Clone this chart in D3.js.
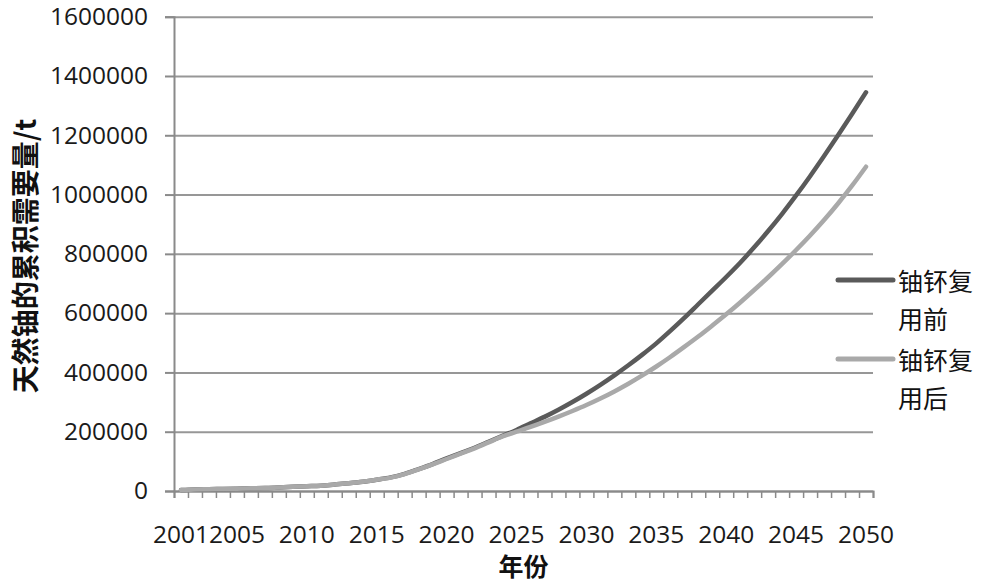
<!DOCTYPE html>
<html>
<head>
<meta charset="utf-8">
<script src="https://cdn.jsdelivr.net/npm/d3@7"></script>
<style>
  body { margin: 0; background: #fff; }
  svg { display: block; }
</style>
</head>
<body>
<div id="chart"></div>
<script>
// años 2001..2050 (categorías)
var years = d3.range(2001, 2051);
var xTickLabels = [2001, 2005, 2010, 2015, 2020, 2025, 2030, 2035, 2040, 2045, 2050];
var yTicks = [0, 200000, 400000, 600000, 800000, 1000000, 1200000, 1400000, 1600000];
var seriesNames = ["铀钚复用前", "铀钚复用后"];

// 铀钚复用前
var before = [3000, 5000, 6000, 7000, 8000, 9000, 10000, 12000, 14000, 16000,
  18000, 22000, 26000, 31000, 38000, 46000, 58000, 74000, 91000, 110000,
  128000, 146000, 166000, 186000, 206000, 228000, 250000, 274000, 300000, 328000,
  358000, 390000, 424000, 460000, 498000, 540000, 584000, 630000, 676000, 722000,
  770000, 822000, 877000, 935000, 997000, 1062000, 1130000, 1200000, 1272000, 1345000];

// 铀钚复用后
var after = [3000, 5000, 6000, 7000, 8000, 9000, 10000, 12000, 14000, 16000,
  18000, 22000, 26000, 31000, 38000, 45000, 57000, 73000, 90000, 108000,
  126000, 144000, 164000, 184000, 200000, 216000, 233000, 251000, 270000, 290000,
  312000, 336000, 362000, 390000, 420000, 452000, 486000, 521000, 558000, 596000,
  636000, 678000, 721000, 766000, 813000, 862000, 914000, 970000, 1030000, 1094000];

var width = 988, height = 583;
var plotLeft = 174, plotRight = 873, plotTop = 16.7, plotBottom = 491;

var svg = d3.select("#chart").append("svg")
  .attr("width", width)
  .attr("height", height);

var xb = d3.scaleBand().domain(years).range([plotLeft, plotRight]).padding(0);
var xi = d3.scaleLinear().domain([0, years.length]).range([plotLeft, plotRight]);
var y = d3.scaleLinear().domain([0, 1600000]).range([plotBottom, plotTop]);
var cx = function(yr) { return xb(yr) + xb.bandwidth() / 2; };

// rejilla
svg.append("g")
  .attr("transform", "translate(" + plotLeft + ",0)")
  .call(d3.axisLeft(y).tickValues(yTicks).tickSize(-(plotRight - plotLeft)).tickFormat(""))
  .call(function(g) { g.select(".domain").remove(); })
  .selectAll("line").attr("stroke", "#979797").attr("stroke-width", 2);

// eje Y
var yAxis = svg.append("g")
  .attr("transform", "translate(" + plotLeft + ",0)")
  .call(d3.axisLeft(y).tickValues(yTicks).tickSize(9).tickPadding(17).tickFormat(d3.format("d")));
yAxis.select(".domain").attr("stroke", "#8a8a8a").attr("stroke-width", 2);
yAxis.selectAll("line").attr("stroke", "#8a8a8a").attr("stroke-width", 2);
yAxis.selectAll("text")
  .attr("font-family", "'Open Sans', sans-serif")
  .attr("font-size", "24.5px")
  .attr("fill", "#1a1a1a");

// eje X (marcas entre categorías)
var xAxis = svg.append("g")
  .attr("transform", "translate(0," + plotBottom + ")")
  .call(d3.axisBottom(xi).tickValues(d3.range(0, years.length + 1)).tickSize(7).tickFormat(""));
xAxis.select(".domain").attr("stroke", "#8a8a8a").attr("stroke-width", 2);
xAxis.selectAll("line").attr("stroke", "#8a8a8a").attr("stroke-width", 1.5);

svg.append("g").selectAll("text")
  .data(xTickLabels)
  .enter()
  .append("text")
  .attr("x", function(d) { return cx(d); })
  .attr("y", 543)
  .attr("text-anchor", "middle")
  .attr("font-family", "'Open Sans', sans-serif")
  .attr("font-size", "24.5px")
  .attr("fill", "#1a1a1a")
  .text(function(d) { return d; });

// títulos de ejes
svg.append("text")
  .attr("transform", "translate(24,256) rotate(-90)")
  .attr("text-anchor", "middle")
  .attr("dominant-baseline", "central")
  .attr("font-family", "'Noto Sans CJK SC', sans-serif")
  .attr("font-weight", "bold")
  .attr("font-size", "28px")
  .attr("fill", "#111")
  .text("天然铀的累积需要量/t");

svg.append("text")
  .attr("x", (plotLeft + plotRight) / 2)
  .attr("y", 565)
  .attr("text-anchor", "middle")
  .attr("dominant-baseline", "central")
  .attr("font-family", "'Noto Sans CJK SC', sans-serif")
  .attr("font-weight", "bold")
  .attr("font-size", "25px")
  .attr("fill", "#111")
  .text("年份");

// líneas
var line = d3.line()
  .x(function(d, i) { return cx(years[i]); })
  .y(function(d) { return y(d); })
  .curve(d3.curveMonotoneX);

var colors = ["#5a5a5a", "#a9a9a9"];
[before, after].forEach(function(s, k) {
  svg.append("path")
    .datum(s)
    .attr("d", line)
    .attr("fill", "none")
    .attr("stroke", colors[k])
    .attr("stroke-width", 4.5)
    .attr("stroke-linecap", "round")
    .attr("stroke-linejoin", "round");
});

// leyenda
var legendY = [280, 359];
var legend = svg.append("g").selectAll("g")
  .data(seriesNames)
  .enter()
  .append("g")
  .attr("transform", function(d, i) { return "translate(0," + legendY[i] + ")"; });

legend.append("line")
  .attr("x1", 838).attr("x2", 893)
  .attr("y1", 0).attr("y2", 0)
  .attr("stroke", function(d, i) { return colors[i]; })
  .attr("stroke-width", 5)
  .attr("stroke-linecap", "round");

legend.append("text")
  .attr("x", 898)
  .attr("y", 0)
  .attr("dominant-baseline", "central")
  .attr("font-family", "'Noto Sans CJK SC', sans-serif")
  .attr("font-size", "25px")
  .attr("fill", "#111")
  .text(function(d) { return d.slice(0, 3); });

legend.append("text")
  .attr("x", 898)
  .attr("y", 38)
  .attr("dominant-baseline", "central")
  .attr("font-family", "'Noto Sans CJK SC', sans-serif")
  .attr("font-size", "25px")
  .attr("fill", "#111")
  .text(function(d) { return d.slice(3); });
</script>
</body>
</html>
